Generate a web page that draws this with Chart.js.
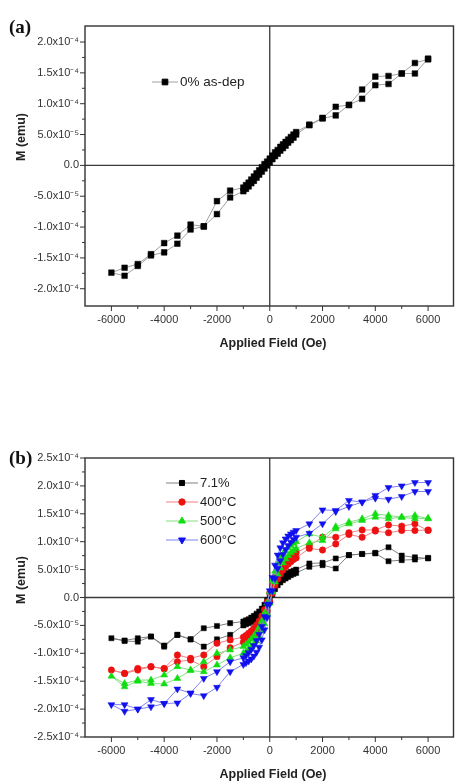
<!DOCTYPE html>
<html><head><meta charset="utf-8">
<script src="https://cdn.jsdelivr.net/npm/chart.js@4.4.1/dist/chart.umd.min.js"></script>
<style>html,body{margin:0;padding:0;background:#fff;width:459px;height:783px;overflow:hidden}canvas{display:block}</style>
</head><body>
<canvas id="ca" width="459" height="390"></canvas>
<canvas id="cb" width="459" height="393"></canvas>
<script>
// ---------- DATA (M in units of 1e-4 emu) ----------
const FIELD_DOWN = [6000,5500,5000,4500,4000,3500,3000,2500,2000,1500,
  1000,900,800,700,600,500,400,300,200,100,0,-100,-200,-300,-400,-500,-600,-700,-800,-900,-1000,
  -1500,-2000,-2500,-3000,-3500,-4000,-4500,-5000,-5500,-6000];
const FIELD_UP = [-5500,-5000,-4500,-4000,-3500,-3000,-2500,-2000,-1500,
  -1000,-900,-800,-700,-600,-500,-400,-300,-200,-100,0,100,200,300,400,500,600,700,800,900,1000,
  1500,2000,2500,3000,3500,4000,4500,5000,5500,6000];

// panel (a): 0% as-dep
const A_DOWN = [1.72,1.66,1.49,1.45,1.44,1.23,0.98,0.95,0.77,0.66,
  0.54,0.50,0.46,0.42,0.38,0.34,0.30,0.25,0.21,0.16,0.11,0.06,0.02,-0.03,-0.08,-0.13,-0.18,-0.23,-0.28,-0.32,-0.36,
  -0.41,-0.58,-0.99,-0.96,-1.14,-1.26,-1.44,-1.60,-1.66,-1.74];
const A_UP = [-1.79,-1.63,-1.46,-1.41,-1.27,-1.04,-0.99,-0.79,-0.52,
  -0.42,-0.38,-0.34,-0.29,-0.25,-0.20,-0.15,-0.10,-0.05,0.00,0.05,0.10,0.15,0.19,0.24,0.28,0.32,0.37,0.41,0.45,0.50,
  0.65,0.76,0.81,0.98,1.08,1.30,1.32,1.49,1.49,1.73];

// panel (b)
const BK_DOWN = [0.70,0.72,0.75,0.90,0.80,0.78,0.76,0.70,0.62,0.61,
  0.50,0.48,0.46,0.44,0.41,0.38,0.34,0.29,0.23,0.15,0.05,-0.05,-0.13,-0.20,-0.25,-0.29,-0.33,-0.36,-0.39,-0.41,-0.43,
  -0.46,-0.51,-0.55,-0.75,-0.67,-0.88,-0.70,-0.73,-0.77,-0.73];
const BK_UP = [-0.78,-0.79,-0.70,-0.86,-0.67,-0.75,-0.88,-0.75,-0.67,
  -0.50,-0.48,-0.46,-0.44,-0.41,-0.37,-0.33,-0.28,-0.21,-0.13,-0.04,0.06,0.15,0.22,0.27,0.31,0.34,0.37,0.40,0.42,0.44,
  0.55,0.58,0.52,0.76,0.78,0.79,0.65,0.67,0.68,0.71];

const RD_DOWN = [1.20,1.32,1.28,1.30,1.21,1.21,1.16,1.08,1.08,0.93,
  0.80,0.77,0.74,0.70,0.66,0.61,0.55,0.47,0.37,0.24,0.08,-0.08,-0.22,-0.33,-0.42,-0.49,-0.55,-0.60,-0.64,-0.68,-0.71,
  -0.76,-0.82,-1.03,-1.09,-1.03,-1.27,-1.24,-1.27,-1.36,-1.30];
const RD_UP = [-1.36,-1.30,-1.24,-1.28,-1.15,-1.12,-1.24,-1.06,-0.90,
  -0.80,-0.77,-0.74,-0.70,-0.66,-0.61,-0.55,-0.47,-0.37,-0.24,-0.08,0.08,0.22,0.33,0.42,0.49,0.55,0.60,0.64,0.68,0.71,
  0.88,0.85,0.96,1.13,1.08,1.19,1.16,1.20,1.20,1.21];

const GR_DOWN = [1.41,1.47,1.44,1.47,1.50,1.41,1.35,1.27,1.08,1.14,
  1.00,0.97,0.93,0.89,0.84,0.78,0.70,0.60,0.47,0.30,0.10,-0.10,-0.28,-0.42,-0.53,-0.62,-0.69,-0.75,-0.80,-0.84,-0.88,
  -0.94,-1.00,-1.15,-1.30,-1.24,-1.39,-1.48,-1.48,-1.54,-1.41];
const GR_UP = [-1.60,-1.50,-1.54,-1.55,-1.45,-1.31,-1.33,-1.21,-1.08,
  -1.00,-0.97,-0.93,-0.89,-0.84,-0.78,-0.70,-0.60,-0.47,-0.30,-0.10,0.10,0.28,0.42,0.53,0.62,0.69,0.75,0.80,0.84,0.88,
  0.98,1.02,1.23,1.32,1.38,1.44,1.41,1.44,1.41,1.42];

const BL_DOWN = [2.06,2.06,2.00,1.97,1.83,1.71,1.74,1.56,1.57,1.32,
  1.20,1.17,1.14,1.10,1.05,0.98,0.89,0.76,0.58,0.36,0.12,-0.12,-0.34,-0.52,-0.66,-0.77,-0.86,-0.93,-0.99,-1.04,-1.08,
  -1.15,-1.33,-1.45,-1.71,-1.64,-1.90,-1.83,-2.00,-1.92,-1.92];
const BL_UP = [-2.04,-2.00,-1.96,-1.90,-1.89,-1.72,-1.76,-1.61,-1.33,
  -1.20,-1.17,-1.14,-1.10,-1.05,-0.98,-0.89,-0.76,-0.58,-0.36,-0.12,0.12,0.34,0.52,0.66,0.77,0.86,0.93,0.99,1.04,1.08,
  1.15,1.32,1.54,1.63,1.71,1.78,1.76,1.81,1.90,1.90];

const M_UNIT = 1e-4;

// ---------- TICKS ----------
const X_TICKS = [-6000,-4000,-2000,0,2000,4000,6000];
const X_LABELS = ['-6000','-4000','-2000','0','2000','4000','6000'];
const X_MINOR = [-5000,-3000,-1000,1000,3000,5000];

const Y_TICKS_A = [-2e-4,-1.5e-4,-1e-4,-5e-5,0,5e-5,1e-4,1.5e-4,2e-4];
const Y_LABELS_A = ['-2.0x10\u207B\u2074','-1.5x10\u207B\u2074','-1.0x10\u207B\u2074','-5.0x10\u207B\u2075','0.0','5.0x10\u207B\u2075','1.0x10\u207B\u2074','1.5x10\u207B\u2074','2.0x10\u207B\u2074'];
const Y_MINOR_A = [-1.75e-4,-1.25e-4,-0.75e-4,-0.25e-4,0.25e-4,0.75e-4,1.25e-4,1.75e-4];

const Y_TICKS_B = [-2.5e-4,-2e-4,-1.5e-4,-1e-4,-5e-5,0,5e-5,1e-4,1.5e-4,2e-4,2.5e-4];
const Y_LABELS_B = ['-2.5x10\u207B\u2074','-2.0x10\u207B\u2074','-1.5x10\u207B\u2074','-1.0x10\u207B\u2074','-5.0x10\u207B\u2075','0.0','5.0x10\u207B\u2075','1.0x10\u207B\u2074','1.5x10\u207B\u2074','2.0x10\u207B\u2074','2.5x10\u207B\u2074'];
const Y_MINOR_B = [-2.25e-4,-1.75e-4,-1.25e-4,-0.75e-4,-0.25e-4,0.25e-4,0.75e-4,1.25e-4,1.75e-4,2.25e-4];

const SERIES_B = ['7.1%','400\u00B0C','500\u00B0C','600\u00B0C'];

// ---------- helpers ----------
function loop(down, up){
  return FIELD_DOWN.map((f,i)=>({x:f, y:down[i]*M_UNIT}))
    .concat(FIELD_UP.map((f,i)=>({x:f, y:up[i]*M_UNIT})));
}
const FONT = 'Liberation Sans, Arial, sans-serif';

const decor = {
  id:'decor',
  beforeDatasetsDraw(chart, args, o){
    const {ctx, chartArea:a} = chart, xs = chart.scales.x, ys = chart.scales.y;
    ctx.save();
    ctx.strokeStyle = '#3a3a3a'; ctx.lineWidth = 1.3;
    const x0 = xs.getPixelForValue(0), y0 = ys.getPixelForValue(0);
    ctx.beginPath();
    ctx.moveTo(x0, a.top); ctx.lineTo(x0, a.bottom);
    ctx.moveTo(a.left, y0); ctx.lineTo(a.right, y0);
    ctx.stroke();
    ctx.restore();
  },
  afterDraw(chart, args, o){
    const {ctx, chartArea:a} = chart, xs = chart.scales.x, ys = chart.scales.y;
    ctx.save();
    ctx.strokeStyle = '#333'; ctx.lineWidth = 1.4;
    ctx.strokeRect(a.left, a.top, a.right - a.left - 1, a.bottom - a.top);
    ctx.lineWidth = 1; ctx.strokeStyle = '#333';
    ctx.beginPath();
    X_TICKS.forEach(v=>{ const p = xs.getPixelForValue(v); ctx.moveTo(p, a.bottom); ctx.lineTo(p, a.bottom + 5); });
    X_MINOR.forEach(v=>{ const p = xs.getPixelForValue(v); ctx.moveTo(p, a.bottom); ctx.lineTo(p, a.bottom + 3); });
    o.yMajor.forEach(v=>{ const p = ys.getPixelForValue(v); ctx.moveTo(a.left - 5, p); ctx.lineTo(a.left, p); });
    o.yMinor.forEach(v=>{ const p = ys.getPixelForValue(v); ctx.moveTo(a.left - 3, p); ctx.lineTo(a.left, p); });
    ctx.stroke();
    ctx.fillStyle = '#222';
    ctx.font = 'bold 12.5px ' + FONT;
    ctx.textAlign = 'center'; ctx.textBaseline = 'middle';
    ctx.fillText('Applied Field (Oe)', 273, o.xTitleY);
    ctx.save();
    ctx.translate(22, o.yTitleY); ctx.rotate(-Math.PI/2);
    ctx.fillText('M (emu)', 0, 0);
    ctx.restore();
    ctx.font = 'bold 19px Liberation Serif, Times New Roman, serif';
    ctx.textAlign = 'left'; ctx.textBaseline = 'alphabetic';
    ctx.fillStyle = '#111';
    ctx.fillText(o.panel, 9, o.panelY);
    chart.data.datasets.forEach((ds, i)=>{
      const y = o.legY + i * o.legDy, x = o.legX;
      ctx.strokeStyle = ds.borderColor; ctx.lineWidth = 1;
      ctx.beginPath(); ctx.moveTo(x - o.legHalf, y); ctx.lineTo(x + o.legHalf, y); ctx.stroke();
      ctx.fillStyle = ds.pointBackgroundColor; ctx.strokeStyle = ds.pointBorderColor;
      Chart.helpers.drawPoint(ctx, {pointStyle: ds.pointStyle, radius: ds.pointRadius, rotation: ds.pointRotation || 0, borderWidth: 0.5}, x, y);
      ctx.fillStyle = '#222';
      ctx.font = o.legFont + 'px ' + FONT;
      ctx.textBaseline = 'middle'; ctx.textAlign = 'left';
      ctx.fillText(ds.label, x + o.legHalf + 2, y + 0.5);
    });
    ctx.restore();
  }
};

function xAxis(){
  return {
    type:'linear', min:-7000, max:7000,
    afterBuildTicks: s => { s.ticks = X_TICKS.map(v=>({value:v})); },
    afterFit: s => { s.height = 30; },
    grid:{ display:false, drawTicks:false },
    border:{ display:false },
    ticks:{ padding:7, color:'#333', font:{family:FONT, size:11}, maxRotation:0, autoSkip:false,
      callback:(v,i)=>X_LABELS[i] }
  };
}
function yAxis(min, max, vals, labels){
  return {
    type:'linear', min, max,
    afterBuildTicks: s => { s.ticks = vals.map(v=>({value:v})); },
    afterFit: s => { s.width = 84; },
    grid:{ display:false, drawTicks:false },
    border:{ display:false },
    ticks:{ padding:6, color:'#333', font:{family:FONT, size:11}, autoSkip:false,
      callback:(v,i)=>labels[i] }
  };
}
function ds(label, data, line, col, style, r, rot, order){
  return { label, data, showLine:true, borderColor:line, borderWidth:1, tension:0,
    pointStyle:style, pointRadius:r, pointRotation:rot, pointBackgroundColor:col, pointBorderColor:col,
    pointBorderWidth:0.5, order };
}

new Chart(document.getElementById('ca'), {
  type:'scatter',
  data:{ datasets:[ ds('0% as-dep', loop(A_DOWN, A_UP), '#a0a0a0', '#000', 'rect', 4, 0, 0) ] },
  options:{
    responsive:false, animation:false, devicePixelRatio:1, events:[],
    layout:{ padding:{ top:26, right:0, left:1, bottom:54 } },
    scales:{ x:xAxis(), y:yAxis(-2.28e-4, 2.26e-4, Y_TICKS_A, Y_LABELS_A) },
    plugins:{ legend:{display:false}, tooltip:{enabled:false},
      decor:{ yMajor:Y_TICKS_A, yMinor:Y_MINOR_A, xTitleY:344, yTitleY:137, panel:'(a)', panelY:33,
        legX:165, legY:82, legDy:19, legHalf:13, legFont:13.5 } }
  },
  plugins:[decor]
});

new Chart(document.getElementById('cb'), {
  type:'scatter',
  data:{ datasets:[
    ds(SERIES_B[0], loop(BK_DOWN, BK_UP), '#808080', '#000000', 'rect', 3.6, 0, 3),
    ds(SERIES_B[1], loop(RD_DOWN, RD_UP), '#f08080', '#ee1111', 'circle', 3.2, 0, 2),
    ds(SERIES_B[2], loop(GR_DOWN, GR_UP), '#80e080', '#11dd11', 'triangle', 4, 0, 1),
    ds(SERIES_B[3], loop(BL_DOWN, BL_UP), '#8080f0', '#1111ee', 'triangle', 4, 180, 0)
  ] },
  options:{
    responsive:false, animation:false, devicePixelRatio:1, events:[],
    layout:{ padding:{ top:68, right:0, left:1, bottom:16 } },
    scales:{ x:xAxis(), y:yAxis(-2.5e-4, 2.5e-4, Y_TICKS_B, Y_LABELS_B) },
    plugins:{ legend:{display:false}, tooltip:{enabled:false},
      decor:{ yMajor:Y_TICKS_B, yMinor:Y_MINOR_B, xTitleY:385, yTitleY:190, panel:'(b)', panelY:74,
        legX:182, legY:93, legDy:19, legHalf:16, legFont:13 } }
  },
  plugins:[decor]
});
</script>
</body></html>
